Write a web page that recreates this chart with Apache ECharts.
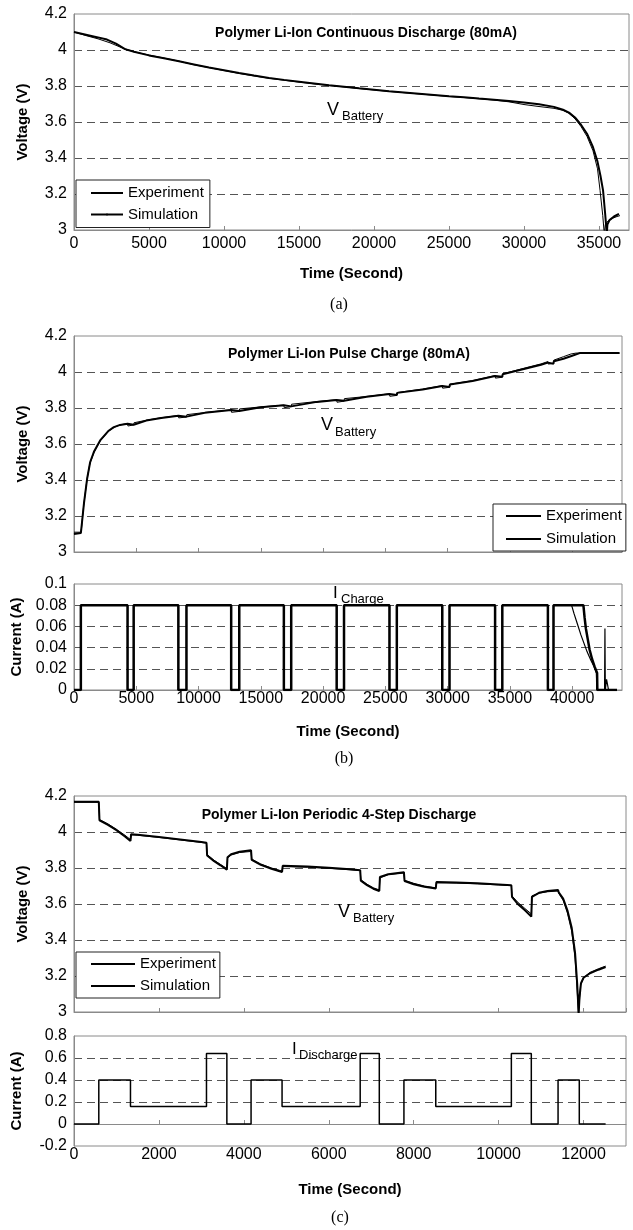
<!DOCTYPE html>
<html><head><meta charset="utf-8">
<script src="https://cdn.jsdelivr.net/npm/echarts@6/dist/echarts.min.js"></script>
<style>html,body{margin:0;padding:0;background:#fff}#c{width:633px;height:1230px}</style>
</head><body><div id="c"></div>
<script>
// ---------- data ----------
const legendNames = ['Experiment', 'Simulation'];

// (a) continuous discharge: [time s, voltage V]
const aExperiment = [[0,4.10],[800,4.08],[1600,4.062],[2400,4.04],[3200,4.012],[4000,3.99],[5000,3.972],[6000,3.955],[7000,3.938],[8000,3.918],[9000,3.902],[10000,3.886],[11000,3.87],[12000,3.856],[13000,3.843],[14000,3.832],[15000,3.822],[16000,3.812],[17000,3.803],[18000,3.795],[19000,3.786],[20000,3.778],[21000,3.77],[22000,3.763],[23000,3.756],[24000,3.749],[25000,3.742],[26000,3.736],[27000,3.729],[28000,3.722],[29000,3.712],[30000,3.697],[31000,3.686],[32000,3.676],[32600,3.665],[33000,3.648],[33400,3.618],[33800,3.575],[34200,3.52],[34600,3.44],[34900,3.34],[35070,3.22],[35250,3.08],[35350,2.98],[35420,3.03],[35600,3.05],[35900,3.065],[36200,3.075],[36400,3.08]];
const aSimulation = [[0,4.10],[800,4.085],[1600,4.07],[2200,4.058],[2800,4.035],[3400,4.005],[4000,3.99],[5000,3.97],[6000,3.954],[7000,3.937],[8000,3.92],[9000,3.903],[10000,3.888],[11000,3.872],[12000,3.858],[13000,3.845],[14000,3.834],[15000,3.824],[16000,3.814],[17000,3.804],[18000,3.796],[19000,3.787],[20000,3.779],[21000,3.771],[22000,3.764],[23000,3.757],[24000,3.75],[25000,3.743],[26000,3.737],[27000,3.73],[28000,3.724],[29000,3.717],[30000,3.708],[31000,3.698],[32000,3.684],[32600,3.668],[33000,3.652],[33400,3.625],[33800,3.585],[34200,3.535],[34600,3.46],[34900,3.38],[35100,3.30],[35270,3.22],[35400,3.10],[35480,3.02],[35520,2.98],[35560,3.03],[35700,3.055],[36000,3.075],[36330,3.09]];

// (b) pulse charge voltage
const bExperiment = [[0,3.11],[550,3.11],[600,3.13],[780,3.26],[1040,3.40],[1270,3.49],[1590,3.55],[2080,3.615],[2730,3.668],[3200,3.692],[3700,3.706],[4300,3.714],[4330,3.70],[4790,3.706],[4820,3.718],[5800,3.732],[7000,3.746],[8380,3.758],[8410,3.745],[9030,3.75],[9060,3.763],[10500,3.775],[12620,3.79],[12650,3.776],[13270,3.781],[13300,3.795],[15000,3.806],[16850,3.816],[16880,3.802],[17440,3.807],[17470,3.821],[19500,3.836],[21090,3.846],[21120,3.832],[21680,3.838],[21710,3.852],[23500,3.864],[25330,3.879],[25360,3.865],[25920,3.87],[25950,3.886],[28000,3.905],[29570,3.924],[29600,3.91],[30150,3.915],[30180,3.932],[32000,3.952],[33810,3.98],[33840,3.966],[34390,3.971],[34420,3.99],[36200,4.022],[37500,4.045],[38050,4.058],[38080,4.044],[38500,4.048],[38530,4.066],[39300,4.085],[39900,4.10],[40300,4.105],[43800,4.105]];
const bSimulation = [[0,3.10],[550,3.105],[620,3.15],[800,3.27],[1060,3.41],[1300,3.50],[1620,3.56],[2100,3.62],[2750,3.672],[3200,3.694],[3700,3.706],[4300,3.712],[4330,3.702],[4790,3.707],[4820,3.716],[5800,3.73],[7000,3.744],[8380,3.757],[8410,3.747],[9030,3.752],[9060,3.761],[10500,3.773],[12620,3.789],[12650,3.778],[13270,3.783],[13300,3.793],[15000,3.804],[16850,3.815],[16880,3.804],[17440,3.809],[17470,3.819],[19500,3.834],[21090,3.845],[21120,3.834],[21680,3.84],[21710,3.85],[23500,3.862],[25330,3.878],[25360,3.867],[25920,3.872],[25950,3.884],[28000,3.903],[29570,3.922],[29600,3.912],[30150,3.917],[30180,3.93],[32000,3.95],[33810,3.978],[33840,3.968],[34390,3.973],[34420,3.987],[36200,4.018],[37500,4.04],[38050,4.052],[38080,4.042],[38500,4.046],[38530,4.06],[39300,4.074],[40000,4.09],[40600,4.105],[43800,4.105]];

// (b) pulse charge current
const bCurrentExp = [[0,0],[550,0],[550,0.08],[4300,0.08],[4300,0],[4790,0],[4790,0.08],[8380,0.08],[8380,0],[9030,0],[9030,0.08],[12620,0.08],[12620,0],[13270,0],[13270,0.08],[16850,0.08],[16850,0],[17440,0],[17440,0.08],[21090,0.08],[21090,0],[21680,0],[21680,0.08],[25330,0.08],[25330,0],[25920,0],[25920,0.08],[29570,0.08],[29570,0],[30150,0],[30150,0.08],[33810,0.08],[33810,0],[34390,0],[34390,0.08],[38050,0.08],[38050,0],[38500,0],[38500,0.08],[39950,0.08],[40150,0.072],[40400,0.063],[40700,0.052],[40950,0.044],[41200,0.036],[41500,0.028],[41800,0.021],[41950,0.016],[41980,0],[42600,0],[42630,0.058],[42660,0],[42760,0],[42760,0.01],[42900,0.01],[42920,0],[43600,0]];
const bCurrentSim = [[0,0],[550,0],[550,0.08],[4300,0.08],[4300,0],[4790,0],[4790,0.08],[8380,0.08],[8380,0],[9030,0],[9030,0.08],[12620,0.08],[12620,0],[13270,0],[13270,0.08],[16850,0.08],[16850,0],[17440,0],[17440,0.08],[21090,0.08],[21090,0],[21680,0],[21680,0.08],[25330,0.08],[25330,0],[25920,0],[25920,0.08],[29570,0.08],[29570,0],[30150,0],[30150,0.08],[33810,0.08],[33810,0],[34390,0],[34390,0.08],[38050,0.08],[38050,0],[38500,0],[38500,0.08],[40900,0.08],[41000,0.068],[41100,0.058],[41250,0.048],[41400,0.038],[41600,0.029],[41800,0.022],[42000,0.016],[42020,0],[43600,0]];

// (c) periodic 4-step discharge voltage
const cExperiment = [[0,4.165],[584,4.165],[600,4.07],[800,4.045],[1000,4.015],[1200,3.982],[1330,3.958],[1345,3.985],[1500,3.982],[2000,3.97],[2500,3.956],[3000,3.942],[3120,3.938],[3135,3.875],[3300,3.843],[3450,3.82],[3600,3.797],[3615,3.855],[3700,3.872],[3900,3.886],[4170,3.892],[4185,3.85],[4400,3.822],[4650,3.8],[4900,3.783],[4915,3.808],[5500,3.804],[6000,3.798],[6500,3.79],[6740,3.786],[6755,3.735],[6900,3.71],[7050,3.69],[7190,3.678],[7205,3.745],[7400,3.762],[7770,3.772],[7785,3.732],[8000,3.715],[8250,3.7],[8520,3.69],[8535,3.718],[9000,3.716],[9500,3.712],[10000,3.706],[10300,3.702],[10315,3.645],[10450,3.61],[10620,3.575],[10770,3.545],[10785,3.645],[10950,3.66],[11150,3.668],[11400,3.672],[11415,3.66],[11520,3.62],[11620,3.55],[11720,3.45],[11800,3.30],[11850,3.12],[11880,2.99],[11900,3.05],[11930,3.15],[12000,3.19],[12150,3.22],[12350,3.24],[12520,3.255]];
const cSimulation = [[0,4.168],[584,4.168],[600,4.065],[800,4.04],[1000,4.01],[1200,3.975],[1330,3.95],[1345,3.988],[1500,3.985],[2000,3.972],[2500,3.958],[3000,3.944],[3120,3.94],[3135,3.87],[3300,3.838],[3450,3.815],[3600,3.79],[3615,3.86],[3700,3.876],[3900,3.89],[4170,3.898],[4185,3.845],[4400,3.818],[4650,3.796],[4900,3.778],[4915,3.812],[5500,3.808],[6000,3.801],[6500,3.793],[6740,3.788],[6755,3.73],[6900,3.705],[7050,3.685],[7190,3.672],[7205,3.75],[7400,3.766],[7770,3.777],[7785,3.728],[8000,3.71],[8250,3.696],[8520,3.686],[8535,3.722],[9000,3.72],[9500,3.715],[10000,3.709],[10300,3.704],[10315,3.64],[10450,3.6],[10620,3.565],[10770,3.53],[10785,3.64],[10950,3.662],[11150,3.672],[11400,3.678],[11415,3.665],[11520,3.63],[11620,3.565],[11720,3.47],[11800,3.33],[11850,3.16],[11885,2.99],[11905,3.08],[11940,3.16],[12000,3.19],[12150,3.215],[12350,3.235],[12520,3.25]];

// (c) discharge current
const cCurrent = [[0,0],[584,0],[584,0.4],[1330,0.4],[1330,0.16],[3120,0.16],[3120,0.64],[3600,0.64],[3600,0],[4170,0],[4170,0.4],[4900,0.4],[4900,0.16],[6740,0.16],[6740,0.64],[7190,0.64],[7190,0],[7770,0],[7770,0.4],[8520,0.4],[8520,0.16],[10300,0.16],[10300,0.64],[10770,0.64],[10770,0],[11400,0],[11400,0.4],[11900,0.4],[11900,0],[12520,0]];

// ---------- styling ----------
const FONT = 'Liberation Sans, Arial, sans-serif';
const GRID_COLOR = '#555';
const BORDER = '#8a8a8a';

function splitColors(n, hideFirst, hideLast) {
  const arr = [];
  for (let i = 0; i < n; i++) arr.push(GRID_COLOR);
  if (hideFirst) arr[0] = 'rgba(0,0,0,0)';
  if (hideLast) arr[n - 1] = 'rgba(0,0,0,0)';
  return arr;
}

function xAxisCfg(grid, max, interval, showLabels, labelMargin, name, nameGap) {
  return {
    gridIndex: grid, type: 'value', min: 0, max: max, interval: interval,
    axisLine: { show: true, lineStyle: { color: BORDER, width: 1 } },
    axisTick: { show: true, inside: true, length: 4, lineStyle: { color: BORDER } },
    axisLabel: { show: showLabels, showMaxLabel: false, margin: labelMargin, fontSize: 16, color: '#000', fontFamily: FONT,
      formatter: function (v) { return String(v); } },
    splitLine: { show: false },
    name: name, nameLocation: 'middle', nameGap: nameGap,
    nameTextStyle: { fontSize: 15, fontWeight: 'bold', color: '#000', fontFamily: FONT }
  };
}
function yAxisCfg(grid, min, max, interval, n, hideFirst, name, nameGap) {
  return {
    gridIndex: grid, type: 'value', min: min, max: max, interval: interval,
    axisLine: { show: true, lineStyle: { color: BORDER, width: 1 } },
    axisTick: { show: false },
    axisLabel: { margin: 7, fontSize: 16, color: '#000', fontFamily: FONT },
    splitLine: { show: true, lineStyle: { type: [8, 5], width: 1, color: splitColors(n, hideFirst, true) } },
    name: name, nameLocation: 'middle', nameRotate: 90, nameGap: nameGap,
    nameTextStyle: { fontSize: 15, fontWeight: 'bold', color: '#000', fontFamily: FONT }
  };
}
function gridCfg(top, height, width) {
  return { left: 74, top: top, width: width, height: height, show: true, borderColor: BORDER, borderWidth: 1, backgroundColor: '#fff', containLabel: false };
}
function lineSeries(name, data, xi, yi, width, sym) {
  return {
    name: name, type: 'line', xAxisIndex: xi, yAxisIndex: yi, data: data,
    symbol: sym ? 'circle' : 'none', symbolSize: 3, showSymbol: false,
    lineStyle: { color: '#000', width: width }, itemStyle: { color: '#000' },
    animation: false, silent: true, clip: true
  };
}
function legendCfg(left, top, padding, itemWidth, gap) {
  return {
    data: legendNames, orient: 'vertical', left: left, top: top, padding: padding,
    itemWidth: itemWidth, itemHeight: 2.5, itemGap: gap, selectedMode: false,
    backgroundColor: '#fff', borderColor: '#222', borderWidth: 1, borderRadius: 0,
    textStyle: { fontSize: 15, lineHeight: 16, color: '#000', fontFamily: FONT }
  };
}
function txt(x, y, text, size, weight, align, family) {
  return { type: 'text', x: x, y: y, silent: true, z: 100,
    style: { text: text, fontSize: size, fontWeight: weight || 'normal', fill: '#000',
      fontFamily: family || FONT, align: align || 'left', verticalAlign: 'middle' } };
}

const chart = echarts.init(document.getElementById('c'), null, { renderer: 'canvas' });
chart.setOption({
  animation: false,
  backgroundColor: '#fff',
  grid: [
    gridCfg(14, 216, 555),
    gridCfg(336, 216, 548),
    gridCfg(584, 106, 548),
    gridCfg(796, 216, 552),
    gridCfg(1036, 110, 552)
  ],
  xAxis: [
    xAxisCfg(0, 37000, 5000, true, 6, 'Time (Second)', 36),
    xAxisCfg(1, 44000, 5000, false, 6, '', 30),
    xAxisCfg(2, 44000, 5000, true, 1, 'Time (Second)', 34),
    xAxisCfg(3, 13000, 2000, false, 6, '', 30),
    xAxisCfg(4, 13000, 2000, true, 1, 'Time (Second)', 36)
  ],
  yAxis: [
    yAxisCfg(0, 3, 4.2, 0.2, 7, true, 'Voltage (V)', 44),
    yAxisCfg(1, 3, 4.2, 0.2, 7, true, 'Voltage (V)', 44),
    yAxisCfg(2, 0, 0.1, 0.02, 6, true, 'Current (A)', 50),
    yAxisCfg(3, 3, 4.2, 0.2, 7, true, 'Voltage (V)', 44),
    yAxisCfg(4, -0.2, 0.8, 0.2, 6, true, 'Current (A)', 50)
  ],
  legend: [
    legendCfg(76, 180, [5, 6, 5, 14], 32, 5.5),
    legendCfg(493, 504, [4, 4, 4, 12], 35, 7),
    legendCfg(76, 952, [4, 4, 4, 14], 44, 6)
  ],
  series: [
    lineSeries('Experiment', aExperiment, 0, 0, 1, false),
    lineSeries('Simulation', aSimulation, 0, 0, 2, true),
    lineSeries('Experiment', bExperiment, 1, 1, 1, false),
    lineSeries('Simulation', bSimulation, 1, 1, 2, true),
    lineSeries('I Experiment', bCurrentExp, 2, 2, 1.2, false),
    lineSeries('I Simulation', bCurrentSim, 2, 2, 2.5, false),
    lineSeries('Experiment', cExperiment, 3, 3, 1, false),
    lineSeries('Simulation', cSimulation, 3, 3, 2, true),
    lineSeries('I Discharge', cCurrent, 4, 4, 1.5, false)
  ],
  graphic: [
    txt(366, 33, 'Polymer Li-Ion Continuous Discharge (80mA)', 14, 'bold', 'center'),
    txt(327, 110, 'V', 18), txt(342, 116, 'Battery', 13),
    txt(339, 305, '(a)', 16, 'normal', 'center', 'Liberation Serif, Times New Roman, serif'),
    txt(349, 354, 'Polymer Li-Ion Pulse Charge (80mA)', 14, 'bold', 'center'),
    txt(321, 425, 'V', 18), txt(335, 432, 'Battery', 13),
    txt(333, 593, 'I', 17), txt(341, 599, 'Charge', 13),
    txt(344, 759, '(b)', 16, 'normal', 'center', 'Liberation Serif, Times New Roman, serif'),
    txt(339, 815, 'Polymer Li-Ion Periodic 4-Step Discharge', 14, 'bold', 'center'),
    txt(338, 912, 'V', 18), txt(353, 918, 'Battery', 13),
    txt(292, 1049, 'I', 17), txt(299, 1055, 'Discharge', 13),
    txt(340, 1218, '(c)', 16, 'normal', 'center', 'Liberation Serif, Times New Roman, serif')
  ]
});
</script>
</body></html>
